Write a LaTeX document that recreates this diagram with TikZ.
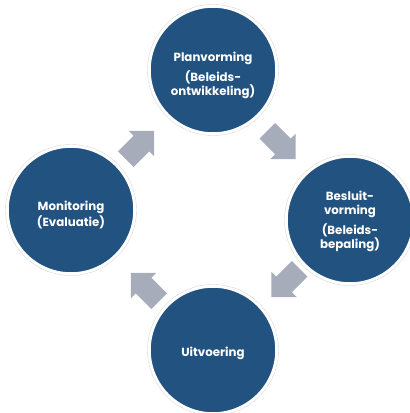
\documentclass[tikz,border=0pt]{standalone}
\usepackage{fontspec}
\setmainfont{Poppins}
\usetikzlibrary{calc}
\definecolor{cyclusblauw}{RGB}{34,82,128}
\definecolor{pijlgrijs}{RGB}{166,172,186}

\begin{document}
\begin{tikzpicture}[x=1pt,y=1pt,
    fase/.style={circle, fill=cyclusblauw, draw=white, line width=1.5pt, minimum size=126pt, inner sep=0pt},
    fasetekst/.style={text=white, font=\bfseries\fontsize{11.8}{14}\selectfont, align=center, inner sep=0pt},
    rand/.style={draw=gray!30, line width=0.4pt},
    blokpijl/.pic={\fill[pijlgrijs] (-20,-11) -- (2,-11) -- (2,-18) -- (20,0) -- (2,18) -- (2,11) -- (-20,11) -- cycle;}]
    \useasboundingbox (0,0) rectangle (410,413);

    % Fasen van de beleidscyclus
    \node[fase] (plan) at (213,343) {};
    \node[fase] (besluit) at (350,193) {};
    \node[fase] (uitvoering) at (213,63) {};
    \node[fase] (monitoring) at (71,203) {};
    \foreach \n in {plan,besluit,uitvoering,monitoring}
      \draw[rand] (\n) circle (65.5pt);

    % Teksten
    \node[fasetekst] (plantekst) at ([yshift=-5pt]plan) {Planvorming\\[5pt](Beleids-\\ontwikkeling)};
    \node[fasetekst] (besluittekst) at ([yshift=-1pt]besluit) {Besluit-\\vorming\\[5pt](Beleids-\\bepaling)};
    \node[fasetekst] (uitvoeringtekst) at ([yshift=-3pt]uitvoering) {Uitvoering};
    \node[fasetekst] (monitoringtekst) at ([yshift=-5pt]monitoring) {Monitoring\\(Evaluatie)};

    % Pijlen
    \pic[rotate=45] at ($(monitoring)!0.5!(plan)+(-2,-5)$) {blokpijl};
    \pic[rotate=-45] at ($(plan)!0.5!(besluit)$) {blokpijl};
    \pic[rotate=-135] at ($(besluit)!0.5!(uitvoering)+(4,2)$) {blokpijl};
    \pic[rotate=135] at ($(uitvoering)!0.5!(monitoring)+(3,-7)$) {blokpijl};
\end{tikzpicture}
\end{document}
